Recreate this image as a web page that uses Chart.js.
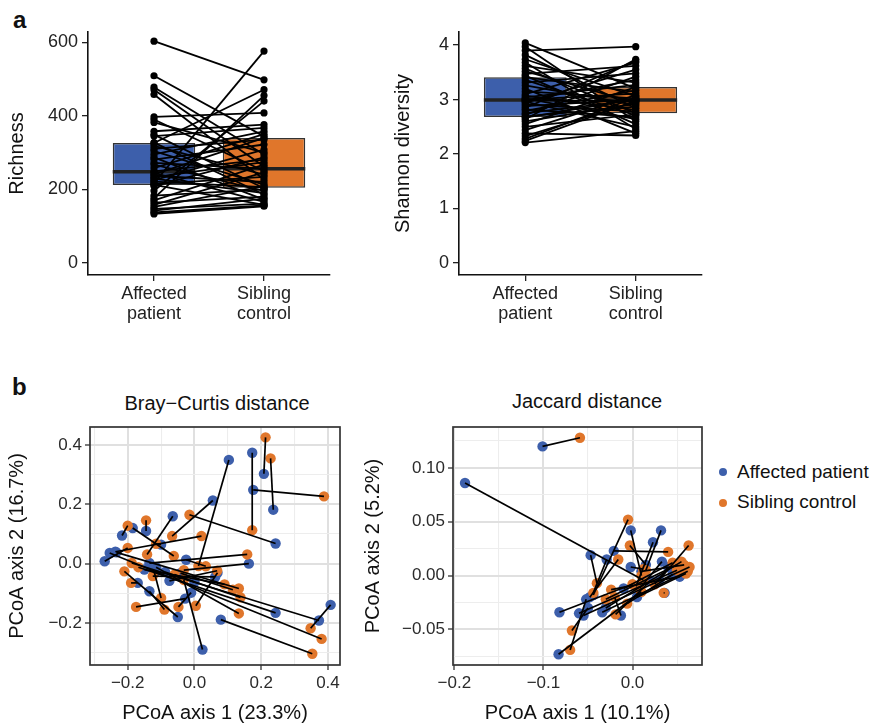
<!DOCTYPE html>
<html><head><meta charset="utf-8">
<script src="https://cdn.jsdelivr.net/npm/chart.js@4.4.1/dist/chart.umd.min.js"></script>
<style>
body{margin:0;background:#fff;width:870px;height:724px;position:relative;overflow:hidden;font-family:"Liberation Sans",Arial,Helvetica,sans-serif;}
canvas{position:absolute;}
.t{position:absolute;color:#111;white-space:nowrap;}
.dot{position:absolute;width:8px;height:8px;border-radius:50%;}
</style></head><body>
<div class="t" style="left:13px;top:8px;font-size:24px;line-height:24px;font-weight:bold;">a</div>
<div class="t" style="left:12px;top:375px;font-size:24px;line-height:24px;font-weight:bold;">b</div>
<div class="t" style="left:67px;top:393px;width:300px;text-align:center;font-size:20px;line-height:20px;">Bray−Curtis distance</div>
<div class="t" style="left:437px;top:391px;width:300px;text-align:center;font-size:20px;line-height:20px;">Jaccard distance</div>
<div class="dot" style="left:719px;top:468px;background:#3d5fab;"></div>
<div class="t" style="left:737px;top:462px;font-size:19px;line-height:19px;">Affected patient</div>
<div class="dot" style="left:719px;top:499px;background:#e0762b;"></div>
<div class="t" style="left:737px;top:492px;font-size:19px;line-height:19px;">Sibling control</div>

<canvas id="c1" width="340" height="345" style="left:0;top:0"></canvas>
<canvas id="c2" width="362" height="345" style="left:350px;top:0"></canvas>
<canvas id="c3" width="350" height="344" style="left:0;top:380px"></canvas>
<canvas id="c4" width="360" height="344" style="left:355px;top:380px"></canvas>

<script>
// ---------- data ----------
const groupTickLabels = [['Affected','patient'],['Sibling','control']];

const richnessPatient = [603,509,478,471,458,397,390,382,358,349,345,327,326,318,310,304,295,287,281,272,267,258,249,245,241,237,233,229,225,221,217,214,212,209,196,183,176,170,164,158,152,147,142,137,133];
const richnessSibling = [498,344,295,262,227,408,250,300,376,203,367,186,471,240,335,213,358,172,322,256,196,350,281,166,340,220,274,190,308,206,576,234,158,287,440,200,455,267,180,246,209,161,175,156,154];
const richnessBoxQ1 = [212,204];
const richnessBoxMedian = [248,256];
const richnessBoxQ3 = [326,340];
const richnessTicks = [0,200,400,600];

const shannonPatient = [4.04,3.97,3.90,3.82,3.74,3.68,3.62,3.57,3.52,3.47,3.44,3.41,3.36,3.31,3.26,3.20,3.15,3.10,3.07,3.04,3.02,3.00,2.99,2.98,2.96,2.94,2.91,2.88,2.85,2.82,2.79,2.75,2.72,2.69,2.67,2.64,2.60,2.55,2.50,2.44,2.38,2.33,2.28,2.24,2.21];
const shannonSibling = [3.20,2.60,3.97,2.84,3.06,2.46,3.31,2.75,2.94,3.62,2.55,3.14,2.71,3.48,2.90,2.38,3.02,3.68,2.81,3.27,2.64,3.11,2.97,3.36,2.50,3.55,2.78,3.00,3.71,2.68,3.17,2.99,3.42,2.87,3.01,3.74,2.92,3.23,2.73,3.08,2.34,2.96,3.04,2.98,2.42];
const shannonBoxQ1 = [2.68,2.75];
const shannonBoxMedian = [2.99,2.99];
const shannonBoxQ3 = [3.41,3.23];
const shannonTicks = [0,1,2,3,4];

const bcPatient = [[0.208,0.303],[0.236,0.182],[0.173,0.374],[0.176,0.249],[0.103,0.350],[0.055,0.213],[-0.065,0.160],[0.243,0.068],[-0.237,0.040],[-0.145,0.110],[-0.185,0.120],[-0.217,0.095],[-0.135,0.002],[0.163,0.000],[0.408,-0.139],[0.373,-0.192],[-0.254,0.036],[0.079,-0.189],[0.243,-0.166],[0.024,-0.290],[-0.050,-0.180],[-0.028,-0.118],[-0.269,0.008],[-0.234,0.038],[-0.135,-0.093],[-0.170,-0.065],[-0.010,-0.098],[0.069,-0.031],[-0.115,-0.012],[-0.088,-0.028],[-0.025,0.013],[-0.100,0.064],[-0.120,-0.031],[0.062,-0.045],[-0.042,-0.032],[-0.075,-0.058],[0.000,-0.062],[-0.150,-0.020]];
const bcSibling = [[0.213,0.426],[0.228,0.355],[0.173,0.113],[0.388,0.227],[0.012,-0.008],[-0.067,0.093],[-0.142,0.031],[-0.015,0.165],[0.021,0.093],[-0.145,0.146],[-0.062,0.026],[-0.200,0.128],[0.158,0.031],[-0.032,-0.022],[0.348,-0.218],[-0.188,0.002],[0.381,-0.254],[0.353,-0.304],[-0.168,-0.012],[-0.032,-0.055],[-0.210,-0.026],[-0.175,-0.146],[-0.200,0.053],[0.133,-0.084],[-0.090,-0.155],[-0.190,-0.065],[-0.048,-0.146],[0.004,-0.142],[0.133,-0.168],[0.138,-0.114],[0.034,-0.009],[-0.115,0.067],[-0.100,-0.116],[-0.125,-0.042],[0.115,-0.088],[0.068,-0.024],[-0.060,-0.037],[0.090,-0.070]];
const bcXMajor = [-0.2,0,0.2,0.4];
const bcXMinor = [-0.3,-0.1,0.1,0.3];
const bcYMajor = [-0.2,0,0.2,0.4];
const bcYMinor = [-0.3,-0.1,0.1,0.3];

const jcPatient = [[-0.101,0.120],[-0.188,0.086],[-0.044,-0.018],[-0.002,0.042],[0.032,0.042],[0.023,0.031],[0.015,0.010],[0.030,-0.004],[-0.021,0.023],[-0.047,0.019],[-0.029,0.015],[-0.048,-0.020],[0.033,0.013],[-0.030,-0.030],[-0.055,-0.037],[-0.002,0.008],[0.053,-0.001],[0.036,-0.016],[0.005,-0.020],[0.045,0.001],[-0.082,-0.034],[-0.060,-0.035],[-0.034,-0.034],[0.020,-0.005],[-0.013,-0.037],[-0.050,-0.030],[-0.083,-0.073],[-0.052,-0.022],[0.010,0.004],[0.040,0.008],[-0.010,-0.012],[0.050,0.010]];
const jcSibling = [[-0.059,0.128],[0.012,-0.004],[-0.005,0.052],[0.010,0.000],[0.015,0.005],[0.004,-0.010],[-0.003,0.028],[0.063,0.028],[0.040,0.022],[-0.040,-0.007],[-0.044,-0.016],[-0.016,0.015],[0.008,-0.012],[0.055,0.013],[0.064,0.008],[0.012,0.006],[-0.024,-0.013],[0.035,-0.016],[0.060,0.002],[-0.006,-0.026],[0.000,-0.008],[0.050,0.005],[0.062,0.004],[-0.019,-0.036],[-0.020,-0.020],[-0.068,-0.051],[0.010,-0.015],[-0.070,-0.069],[0.058,0.010],[0.025,-0.008],[0.045,0.012],[-0.030,-0.022]];
const jcXMajor = [-0.2,-0.1,0];
const jcXMinor = [-0.15,-0.05,0.05];
const jcYMajor = [-0.05,0,0.05,0.10];
const jcYMinor = [-0.075,-0.025,0.025,0.075,0.125];

// ---------- styling ----------
const BLUE = '#3d5fab', ORANGE = '#e0762b';
const FONT = '"Liberation Sans", Arial, Helvetica, sans-serif';
Chart.defaults.font.family = FONT;
Chart.defaults.color = '#2b2b2b';
const BOX_HALF = 0.375;

function boxChart(id, pat, sib, q1, med, q3, ticks, ymin, ymax, title, yWidth, titlePad) {
  const datasets = [{
    type: 'bar',
    data: [0,1].map(i => ({x: i+1, y: [q1[i], q3[i]]})),
    backgroundColor: [BLUE, ORANGE], borderColor: '#333', borderWidth: 1.5, borderSkipped: false,
    barPercentage: 2*BOX_HALF, categoryPercentage: 1, order: 4
  }];
  [0,1].forEach(i => datasets.push({
    type: 'line', data: [{x: i+1-BOX_HALF, y: med[i]}, {x: i+1+BOX_HALF, y: med[i]}],
    borderColor: '#222', borderWidth: 3.5, pointRadius: 0, order: 3
  }));
  pat.forEach((p, i) => datasets.push({
    type: 'line', data: [{x: 1, y: p}, {x: 2, y: sib[i]}],
    borderColor: '#000', borderWidth: 1.8, pointRadius: 3.6, pointBackgroundColor: '#000',
    pointBorderWidth: 0, order: 1
  }));
  new Chart(document.getElementById(id), {
    type: 'bar',
    data: {datasets},
    options: {
      responsive: false, devicePixelRatio: 1, animation: false, events: [],
      layout: {padding: {top: 32, right: 10, left: 0, bottom: 0}},
      plugins: {legend: {display: false}, tooltip: {enabled: false}},
      scales: {
        x: {
          type: 'linear', min: 0.4, max: 2.6, offset: false,
          afterBuildTicks: s => { s.ticks = [{value: 1}, {value: 2}]; },
          afterFit: s => { s.height = 70; },
          ticks: {autoSkip: false, maxRotation: 0, padding: 3, color: '#222',
                  font: {size: 18, lineHeight: 1.1}, callback: (v, i) => groupTickLabels[i]},
          grid: {offset: false, drawOnChartArea: false, drawTicks: true, tickLength: 6, tickColor: '#222', lineWidth: 1.3},
          border: {display: true, color: '#111', width: 1.6}
        },
        y: {
          type: 'linear', min: ymin, max: ymax,
          afterBuildTicks: s => { s.ticks = ticks.map(v => ({value: v})); },
          afterFit: s => { s.width = yWidth; },
          ticks: {padding: 4, color: '#222', font: {size: 18}, callback: v => String(v)},
          grid: {drawOnChartArea: false, drawTicks: true, tickLength: 6, tickColor: '#222', lineWidth: 1.3},
          border: {display: true, color: '#111', width: 1.6},
          title: {display: true, text: title, color: '#111', font: {size: 20, lineHeight: 1.2}, padding: {top: titlePad, bottom: 0}}
        }
      }
    }
  });
}

const frame = {
  id: 'frame',
  afterDatasetsDraw(chart) {
    const {ctx, chartArea: a} = chart;
    ctx.save(); ctx.strokeStyle = '#333'; ctx.lineWidth = 1.7;
    ctx.strokeRect(a.left, a.top, a.right - a.left, a.bottom - a.top);
    ctx.restore();
  }
};

function fmt(d) { return v => (v < -1e-9 ? '\u2212' : '') + Math.abs(v).toFixed(d); }

function gridTicks(major, minor) {
  return s => {
    s.ticks = major.map(v => ({value: v, mj: true}))
      .concat(minor.map(v => ({value: v, mj: false})))
      .sort((a, b) => a.value - b.value);
  };
}

function gridOpts() {
  return {
    drawTicks: true, tickLength: 5,
    color: c => (c.tick && c.tick.mj) ? '#e0e0e0' : '#ededed',
    lineWidth: c => (c.tick && c.tick.mj) ? 2 : 1.1,
    tickColor: c => (c.tick && c.tick.mj) ? '#333' : 'rgba(0,0,0,0)',
    tickWidth: 1.3
  };
}

function pcoaChart(id, pat, sib, xr, yr, xMaj, xMin, yMaj, yMin, fx, fy, xTitle, yTitle, yWidth, yTitlePad, padRight) {
  const datasets = [];
  pat.forEach((p, i) => datasets.push({
    type: 'scatter', showLine: true,
    data: [{x: p[0], y: p[1]}, {x: sib[i][0], y: sib[i][1]}],
    borderColor: '#000', borderWidth: 1.7, pointRadius: 0, order: 1
  }));
  datasets.push({type: 'scatter', data: sib.map(p => ({x: p[0], y: p[1]})),
    backgroundColor: ORANGE, pointRadius: 5.2, pointBorderWidth: 0, order: 2});
  datasets.push({type: 'scatter', data: pat.map(p => ({x: p[0], y: p[1]})),
    backgroundColor: BLUE, pointRadius: 5.2, pointBorderWidth: 0, order: 3});
  new Chart(document.getElementById(id), {
    type: 'scatter',
    data: {datasets},
    plugins: [frame],
    options: {
      responsive: false, devicePixelRatio: 1, animation: false, events: [],
      layout: {padding: {top: 47, right: padRight, left: 0, bottom: 0}},
      plugins: {legend: {display: false}, tooltip: {enabled: false}},
      scales: {
        x: {
          type: 'linear', min: xr[0], max: xr[1],
          afterBuildTicks: gridTicks(xMaj, xMin),
          afterFit: s => { s.height = 59; },
          ticks: {autoSkip: false, maxRotation: 0, padding: 3, color: '#2b2b2b', font: {size: 17},
                  callback: (v, i, t) => t[i].mj ? fx(v) : ''},
          grid: gridOpts(),
          border: {display: false},
          title: {display: true, text: xTitle, color: '#111', font: {size: 20, lineHeight: 1.2}, padding: {top: 0, bottom: -1}}
        },
        y: {
          type: 'linear', min: yr[0], max: yr[1],
          afterBuildTicks: gridTicks(yMaj, yMin),
          afterFit: s => { s.width = yWidth; },
          ticks: {autoSkip: false, padding: 3, color: '#2b2b2b', font: {size: 17},
                  callback: (v, i, t) => t[i].mj ? fy(v) : ''},
          grid: gridOpts(),
          border: {display: false},
          title: {display: true, text: yTitle, color: '#111', font: {size: 20, lineHeight: 1.2}, padding: {top: yTitlePad, bottom: 0}}
        }
      }
    }
  });
}

boxChart('c1', richnessPatient, richnessSibling, richnessBoxQ1, richnessBoxMedian, richnessBoxQ3,
         richnessTicks, -33, 628, 'Richness', 88, 5);
boxChart('c2', shannonPatient, shannonSibling, shannonBoxQ1, shannonBoxMedian, shannonBoxQ3,
         shannonTicks, -0.22, 4.24, 'Shannon diversity', 109, 41);
pcoaChart('c3', bcPatient, bcSibling, [-0.313, 0.436], [-0.342, 0.461], bcXMajor, bcXMinor, bcYMajor, bcYMinor,
          fmt(1), fmt(1), 'PCoA axis 1 (23.3%)', 'PCoA axis 2 (16.7%)', 90, 5, 10);
pcoaChart('c4', jcPatient, jcSibling, [-0.2015, 0.078], [-0.083, 0.138], jcXMajor, jcXMinor, jcYMajor, jcYMinor,
          fmt(1), fmt(2), 'PCoA axis 1 (10.1%)', 'PCoA axis 2 (5.2%)', 98, 6, 13);
</script>
</body></html>
